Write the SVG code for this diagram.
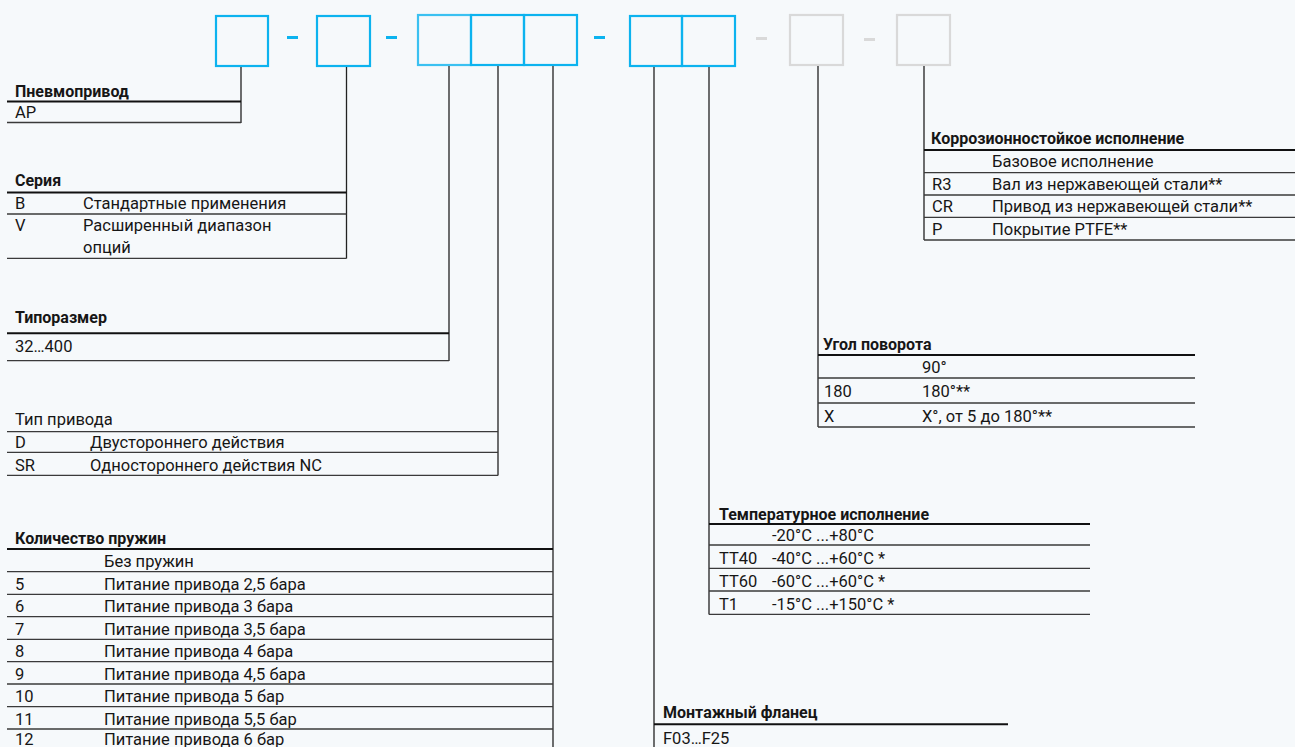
<svg xmlns="http://www.w3.org/2000/svg" width="1295" height="747" viewBox="0 0 1295 747">
<style>
text{font-family:Roboto,"Liberation Sans",sans-serif;font-size:16.5px;fill:#161616}
.h{font-weight:bold;font-size:16px}
.bx{fill:none;stroke:#0cb3ef;stroke-width:2.2}
.gx{fill:none;stroke:#d9d9d9;stroke-width:2.2}
.hl{stroke:#111;stroke-width:2}
.rl{stroke:#3a3a3a;stroke-width:1.3}
.cn{stroke:#222;stroke-width:1.3;fill:none}
</style>
<rect width="1295" height="747" fill="#f6f9fb"/>
<g id="code">
<rect class="bx" x="216" y="16" width="52" height="50"/>
<rect x="287" y="36" width="11" height="3" fill="#0cb3ef"/>
<rect class="bx" x="317" y="16" width="53" height="50"/>
<rect x="386" y="36" width="11" height="3" fill="#0cb3ef"/>
<rect class="bx" x="418" y="15" width="53" height="50" stroke-opacity="0.8"/>
<rect class="bx" x="471" y="15" width="53" height="50"/>
<rect class="bx" x="524" y="15" width="53" height="50"/>
<rect x="594" y="36" width="11" height="3" fill="#0cb3ef"/>
<rect class="bx" x="630" y="16" width="52" height="50"/>
<rect class="bx" x="682" y="16" width="53" height="50"/>
<rect x="756" y="37" width="11" height="3" fill="#d9d9d9"/>
<rect class="gx" x="790" y="15" width="53" height="50"/>
<rect x="864" y="38" width="11" height="3" fill="#d9d9d9"/>
<rect class="gx" x="897" y="15" width="53" height="50"/>
</g>
<g id="connectors">
<path class="cn" d="M241 67V123M346.5 67V258.5M449 66V361M498 66V475.5M553 66V747M654 67V747M709 67V614.5M818 66V427M924 66V240"/>
</g>
<g id="pnevmoprivod">
<text class="h" x="15" y="97">Пневмопривод</text>
<line class="hl" x1="7" y1="101.5" x2="241" y2="101.5"/>
<text x="15" y="118">AP</text>
<line class="rl" x1="7" y1="122.5" x2="241" y2="122.5"/>
</g>
<g id="seriya">
<text class="h" x="15" y="186">Серия</text>
<line class="hl" x1="7" y1="192.5" x2="346.5" y2="192.5"/>
<text x="15" y="209">B</text><text x="83" y="209">Стандартные применения</text>
<line class="rl" x1="7" y1="214" x2="346.5" y2="214"/>
<text x="15" y="231">V</text><text x="83" y="231">Расширенный диапазон</text>
<text x="83" y="252.5">опций</text>
<line class="rl" x1="7" y1="258.3" x2="346.5" y2="258.3"/>
</g>
<g id="tiporazmer">
<text class="h" x="15" y="323">Типоразмер</text>
<line class="hl" x1="7" y1="333.3" x2="449" y2="333.3"/>
<text x="15" y="352">32…400</text>
<line class="rl" x1="7" y1="360.7" x2="449" y2="360.7"/>
</g>
<g id="tip-privoda">
<text x="15" y="425">Тип привода</text>
<line class="rl" x1="7" y1="431.7" x2="498" y2="431.7" stroke-width="1.6"/>
<text x="15" y="448">D</text><text x="90" y="448">Двустороннего действия</text>
<line class="rl" x1="7" y1="452.3" x2="498" y2="452.3"/>
<text x="15" y="471">SR</text><text x="90" y="471">Одностороннего действия NC</text>
<line class="rl" x1="7" y1="475.3" x2="498" y2="475.3"/>
</g>
<g id="pruzhiny">
<text class="h" x="15" y="544">Количество пружин</text>
<line class="hl" x1="7" y1="549" x2="553" y2="549"/>
<text x="104" y="567">Без пружин</text>
<line class="rl" x1="7" y1="571.7" x2="553" y2="571.7"/>
<text x="15" y="589.5">5</text><text x="104" y="589.5">Питание привода 2,5 бара</text>
<line class="rl" x1="7" y1="594.3" x2="553" y2="594.3"/>
<text x="15" y="612">6</text><text x="104" y="612">Питание привода 3 бара</text>
<line class="rl" x1="7" y1="616.7" x2="553" y2="616.7"/>
<text x="15" y="634.5">7</text><text x="104" y="634.5">Питание привода 3,5 бара</text>
<line class="rl" x1="7" y1="639.3" x2="553" y2="639.3"/>
<text x="15" y="657">8</text><text x="104" y="657">Питание привода 4 бара</text>
<line class="rl" x1="7" y1="661.7" x2="553" y2="661.7"/>
<text x="15" y="679.5">9</text><text x="104" y="679.5">Питание привода 4,5 бара</text>
<line class="rl" x1="7" y1="684" x2="553" y2="684"/>
<text x="15" y="702">10</text><text x="104" y="702">Питание привода 5 бар</text>
<line class="rl" x1="7" y1="706.7" x2="553" y2="706.7"/>
<text x="15" y="724.5">11</text><text x="104" y="724.5">Питание привода 5,5 бар</text>
<line class="rl" x1="7" y1="729" x2="553" y2="729"/>
<text x="15" y="745">12</text><text x="104" y="745">Питание привода 6 бар</text>
</g>
<g id="flanec">
<text class="h" x="663" y="718">Монтажный фланец</text>
<line class="hl" x1="654" y1="724.3" x2="1008" y2="724.3"/>
<text x="663" y="743.5">F03…F25</text>
</g>
<g id="temperatura">
<text class="h" x="719" y="519.5">Температурное исполнение</text>
<line class="hl" x1="709" y1="524" x2="1090" y2="524"/>
<text x="772" y="541">-20°C ...+80°C</text>
<line class="rl" x1="709" y1="545" x2="1090" y2="545"/>
<text x="719" y="564">TT40</text><text x="772" y="564">-40°C ...+60°C *</text>
<line class="rl" x1="709" y1="568.3" x2="1090" y2="568.3"/>
<text x="719" y="587">TT60</text><text x="772" y="587">-60°C ...+60°C *</text>
<line class="rl" x1="709" y1="591" x2="1090" y2="591"/>
<text x="719" y="609.5">T1</text><text x="772" y="609.5">-15°C ...+150°C *</text>
<line class="rl" x1="709" y1="614.3" x2="1090" y2="614.3"/>
</g>
<g id="ugol">
<text class="h" x="823" y="350">Угол поворота</text>
<line class="hl" x1="818" y1="355" x2="1195" y2="355"/>
<text x="922" y="373">90°</text>
<line class="rl" x1="818" y1="378" x2="1195" y2="378"/>
<text x="824" y="397">180</text><text x="922" y="397">180°**</text>
<line class="rl" x1="818" y1="403" x2="1195" y2="403"/>
<text x="824" y="422">X</text><text x="922" y="422">X°, от 5 до 180°**</text>
<line class="rl" x1="818" y1="427" x2="1195" y2="427"/>
</g>
<g id="korroziya">
<text class="h" x="931" y="144">Коррозионностойкое исполнение</text>
<line class="hl" x1="924" y1="150" x2="1295" y2="150"/>
<text x="992" y="167">Базовое исполнение</text>
<line class="rl" x1="924" y1="172.7" x2="1295" y2="172.7"/>
<text x="932" y="190">R3</text><text x="992" y="190">Вал из нержавеющей стали**</text>
<line class="rl" x1="924" y1="195" x2="1295" y2="195"/>
<text x="932" y="212">CR</text><text x="992" y="212">Привод из нержавеющей стали**</text>
<line class="rl" x1="924" y1="217.3" x2="1295" y2="217.3"/>
<text x="932" y="235">P</text><text x="992" y="235">Покрытие PTFE**</text>
<line class="rl" x1="924" y1="240" x2="1295" y2="240"/>
</g>
</svg>
